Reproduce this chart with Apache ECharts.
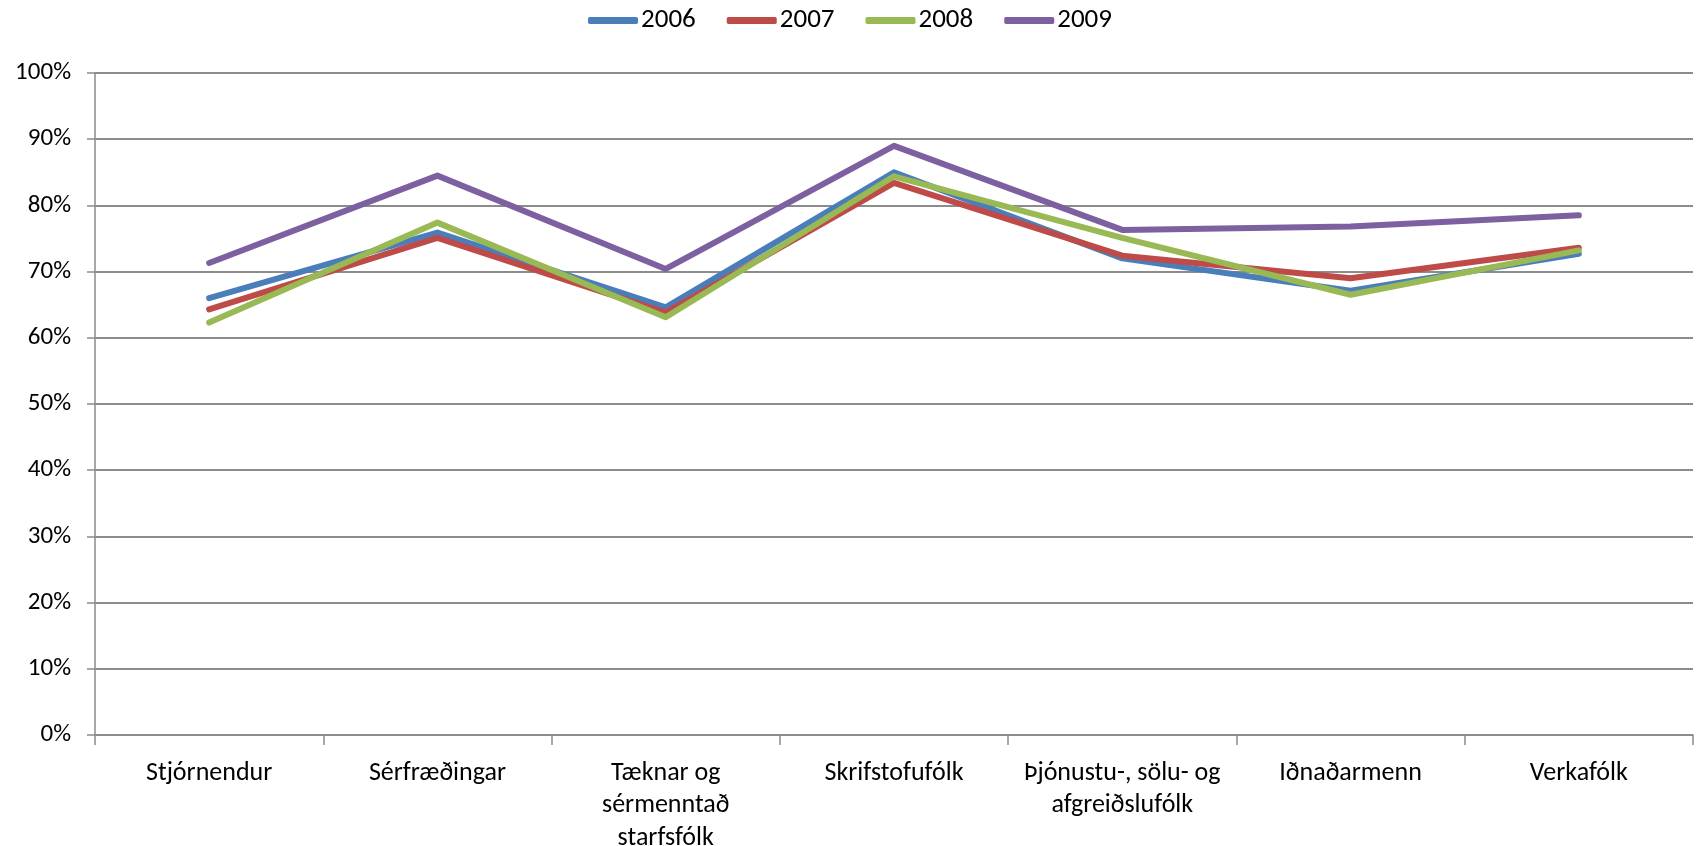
<!DOCTYPE html>
<html>
<head>
<meta charset="utf-8">
<script src="https://cdn.jsdelivr.net/npm/echarts@6/dist/echarts.min.js"></script>
<style>
  html, body { margin: 0; padding: 0; background: #fff; }
  #chart { width: 1700px; height: 846px; }
</style>
</head>
<body>
<div id="chart"></div>
<script>
// Categories (occupation groups)
const categories = [
  "Stjórnendur",
  "Sérfræðingar",
  "Tæknar og\nsérmenntað\nstarfsfólk",
  "Skrifstofufólk",
  "Þjónustu-, sölu- og\nafgreiðslufólk",
  "Iðnaðarmenn",
  "Verkafólk"
];

// Values in percent
const years = ["2006", "2007", "2008", "2009"];
const v2006 = [66.0, 75.9, 64.6, 85.0, 72.0, 67.1, 72.7];
const v2007 = [64.3, 75.1, 63.8, 83.4, 72.4, 69.0, 73.6];
const v2008 = [62.3, 77.4, 63.1, 84.4, 75.1, 66.5, 73.2];
const v2009 = [71.3, 84.5, 70.4, 89.0, 76.3, 76.8, 78.5];
const yTicks = [0, 100, 10]; // min, max, step

const colors = ["#4a7ebb", "#be4b48", "#98b954", "#7d60a0"];
const font = "Carlito, 'Liberation Sans', Arial, sans-serif";

const chart = echarts.init(document.getElementById("chart"));

const seriesData = [v2006, v2007, v2008, v2009];
const series = years.map(function (y, i) {
  return {
    name: y,
    type: "line",
    data: seriesData[i],
    symbol: "none",
    lineStyle: { width: 6, color: colors[i], cap: "round", join: "round" },
    itemStyle: { color: colors[i] },
    animation: false
  };
});

chart.setOption({
  backgroundColor: "#fff",
  color: colors,
  textStyle: { fontFamily: font },
  legend: {
    top: 2,
    left: "center",
    itemWidth: 50,
    itemHeight: 7,
    itemGap: 31,
    icon: "roundRect",
    textStyle: { fontSize: 27, color: "#000", fontFamily: font, padding: [0, 0, 0, -2] },
    data: years
  },
  grid: {
    left: 95, right: 7, top: 73, bottom: 111,
    containLabel: false,
    outerBoundsMode: "none"
  },
  xAxis: {
    type: "category",
    data: categories,
    boundaryGap: true,
    axisLine: { lineStyle: { color: "#8c8c8c", width: 1.5 } },
    axisTick: { show: true, length: 10, lineStyle: { color: "#8c8c8c", width: 1.5 } },
    axisLabel: {
      interval: 0,
      margin: 22,
      fontSize: 26,
      lineHeight: 32.5,
      color: "#000",
      fontFamily: font
    },
    splitLine: { show: false }
  },
  yAxis: {
    type: "value",
    min: yTicks[0],
    max: yTicks[1],
    interval: yTicks[2],
    axisLine: { show: true, lineStyle: { color: "#8c8c8c", width: 1.5 } },
    axisTick: { show: true, length: 8, lineStyle: { color: "#8c8c8c", width: 1.5 } },
    axisLabel: {
      formatter: "{value}%",
      margin: 24,
      fontSize: 25,
      color: "#000",
      fontFamily: font
    },
    splitLine: { show: true, lineStyle: { color: "#8c8c8c", width: 2 } }
  },
  series: series
});
</script>
</body>
</html>
